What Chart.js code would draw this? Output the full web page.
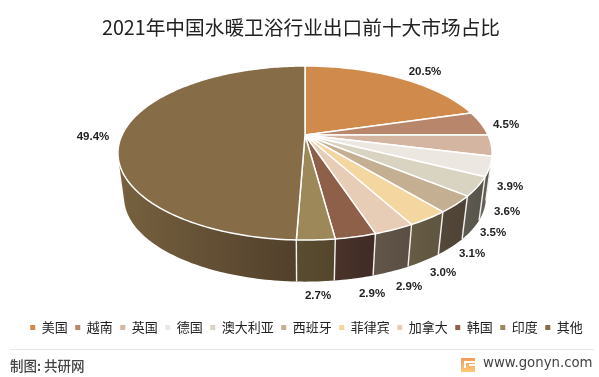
<!DOCTYPE html>
<html>
<head>
<meta charset="utf-8">
<title>2021年中国水暖卫浴行业出口前十大市场占比</title>
<style>
  html, body { margin: 0; padding: 0; background: #fff; }
  canvas { display: block; }
</style>
<script src="https://cdn.jsdelivr.net/npm/chart.js@4"></script>
</head>
<body>
<canvas id="pieChart" width="599" height="377"></canvas>
<script>
const categories = ["美国", "越南", "英国", "德国", "澳大利亚", "西班牙", "菲律宾", "加拿大", "韩国", "印度", "其他"];
const shareValues = [20.5, 4.5, 3.9, 3.6, 3.5, 3.1, 3.0, 2.9, 2.9, 2.7, 49.4];

const topColors = ["#d08b4c", "#b8876b", "#d3b5a2", "#ede7e2", "#d8d4c1", "#c4af92", "#f4d6a0", "#e8cdb6", "#8e6049", "#9c8858", "#866d48"];
// side wall colours, light end then dark end
const wallLight = ["#7d5a35", "#755a48", "#6e5f55", "#66625c", "#5e5c52", "#544839", "#675c44", "#625549", "#4a332a", "#5a4c30", "#77613f"];
const wallDark = ["#7d5a35", "#755a48", "#6e5f55", "#5c5853", "#565449", "#4e4236", "#5f5540", "#5a4e44", "#3f2b25", "#54462c", "#4f3e2a"];

// where the percentage labels sit (text centres)
const labelSpots = [[425, 72], [506, 125], [510, 187], [507, 212], [493, 233], [472, 254], [443, 273], [409, 287], [372, 294], [318, 296], [93, 137]];

// perspective of the pie: top disc and the smaller bottom disc
const topDisc = { cx: 305, cy: 135, a: 183, b: 83.3, k: 0.207 };
const bottomDisc = { cx: 305, cy: 180, a: 177, b: 80.6, k: 0.207 };

function project(disc, angle, r) {
  // angle comes from the arc element, -PI/2 is the top of the pie
  const X = r * Math.cos(angle);
  const Y = r * Math.sin(angle);
  const w = 1 - disc.k * Y;
  return [disc.cx + disc.a * X / w, disc.cy + disc.b * Y / w];
}

function arcPoints(disc, start, end) {
  const steps = Math.max(4, Math.ceil((end - start) / 0.02));
  const pts = [];
  for (let i = 0; i <= steps; i++) {
    pts.push(project(disc, start + (end - start) * i / steps, 1));
  }
  return pts;
}

function tracePath(ctx, pts) {
  ctx.beginPath();
  pts.forEach((p, i) => (i === 0 ? ctx.moveTo(p[0], p[1]) : ctx.lineTo(p[0], p[1])));
  ctx.closePath();
}

function signedArea(pts) {
  let sum = 0;
  pts.forEach((p, i) => {
    const q = pts[(i + 1) % pts.length];
    sum += p[0] * q[1] - q[0] * p[1];
  });
  return sum;
}

const pie3d = {
  id: "pie3d",
  afterLayout(chart) {
    // legend row sits a little right of the title centre
    chart.legend.left += 11;
  },
  beforeDatasetsDraw(chart) {
    const ctx = chart.ctx;
    const arcs = chart.getDatasetMeta(0).data;
    ctx.save();
    ctx.lineJoin = "round";

    // walls first, the top face covers whatever is behind it
    arcs.forEach((arc, i) => {
      const top = arcPoints(topDisc, arc.startAngle, arc.endAngle);
      const bottom = arcPoints(bottomDisc, arc.startAngle, arc.endAngle);
      const xs = top.concat(bottom).map((p) => p[0]);
      const grad = ctx.createLinearGradient(Math.min(...xs), 0, Math.max(...xs), 0);
      grad.addColorStop(0, wallLight[i]);
      grad.addColorStop(1, wallDark[i]);
      ctx.fillStyle = grad;
      // one path per wall so the strips leave no hairlines, all wound the same way
      ctx.beginPath();
      for (let j = 0; j < top.length - 1; j++) {
        const quad = [top[j], top[j + 1], bottom[j + 1], bottom[j]];
        if (signedArea(quad) < 0) quad.reverse();
        quad.forEach((p, n) => (n === 0 ? ctx.moveTo(p[0], p[1]) : ctx.lineTo(p[0], p[1])));
        ctx.closePath();
      }
      ctx.fill("nonzero");
    });

    // seams between the walls
    ctx.strokeStyle = "#f4f2ee";
    ctx.lineWidth = 1.4;
    arcs.forEach((arc) => {
      const angle = arc.startAngle;
      if (Math.sin(angle) < 0.02) return;
      const a = project(topDisc, angle, 1);
      const b = project(bottomDisc, angle, 1);
      ctx.beginPath();
      ctx.moveTo(a[0], a[1]);
      ctx.lineTo(b[0], b[1]);
      ctx.stroke();
    });

    // top faces
    ctx.strokeStyle = "#fff";
    ctx.lineWidth = 1.5;
    arcs.forEach((arc, i) => {
      const pts = [project(topDisc, 0, 0)].concat(arcPoints(topDisc, arc.startAngle, arc.endAngle));
      tracePath(ctx, pts);
      ctx.fillStyle = topColors[i];
      ctx.fill();
      ctx.stroke();
    });

    // percentage labels
    ctx.fillStyle = "#222";
    ctx.font = "bold 11.5px 'Liberation Sans'";
    ctx.textAlign = "center";
    ctx.textBaseline = "middle";
    shareValues.forEach((v, i) => {
      ctx.fillText(v.toFixed(1) + "%", labelSpots[i][0], labelSpots[i][1]);
    });
    ctx.restore();
    return false; // the flat arcs are not wanted
  },
  afterDraw(chart) {
    const ctx = chart.ctx;
    ctx.save();
    ctx.fillStyle = "#e8e8e8";
    ctx.fillRect(10, 349, 584, 1);

    ctx.fillStyle = "#444";
    ctx.textBaseline = "middle";
    ctx.textAlign = "left";
    ctx.font = "500 13.5px 'Noto Sans CJK SC'";
    ctx.fillText("制图: 共研网", 10, 366);
    ctx.font = "13.3px 'DejaVu Sans'";
    ctx.fillText("www.gonyn.com", 483, 364);

    // small site logo
    const g = ctx.createLinearGradient(0, 358, 0, 372);
    g.addColorStop(0, "#f29a5a");
    g.addColorStop(1, "#fbcb74");
    ctx.fillStyle = g;
    ctx.fillRect(461, 358, 14, 14);
    ctx.fillStyle = "#fff";
    ctx.fillRect(464, 361, 11, 2);
    ctx.fillRect(469, 364, 6, 2);
    ctx.fillRect(464, 363, 2, 5);
    ctx.restore();
  },
};

new Chart(document.getElementById("pieChart"), {
  type: "pie",
  data: {
    labels: categories,
    datasets: [{ data: shareValues, backgroundColor: topColors, borderWidth: 0 }],
  },
  options: {
    responsive: false,
    animation: false,
    layout: { padding: { left: 3, right: 0, top: 16, bottom: 33 } },
    plugins: {
      title: {
        display: true,
        text: "2021年中国水暖卫浴行业出口前十大市场占比",
        color: "#222",
        font: { family: "'Noto Sans CJK SC'", size: 19.7, weight: "normal" },
        padding: { top: 0, bottom: 10 },
      },
      legend: {
        position: "bottom",
        labels: {
          boxWidth: 5,
          boxHeight: 5,
          padding: 7.5,
          color: "#222",
          font: { family: "'Noto Sans CJK SC'", size: 13 },
        },
      },
      tooltip: { enabled: false },
    },
  },
  plugins: [pie3d],
});
</script>
</body>
</html>
